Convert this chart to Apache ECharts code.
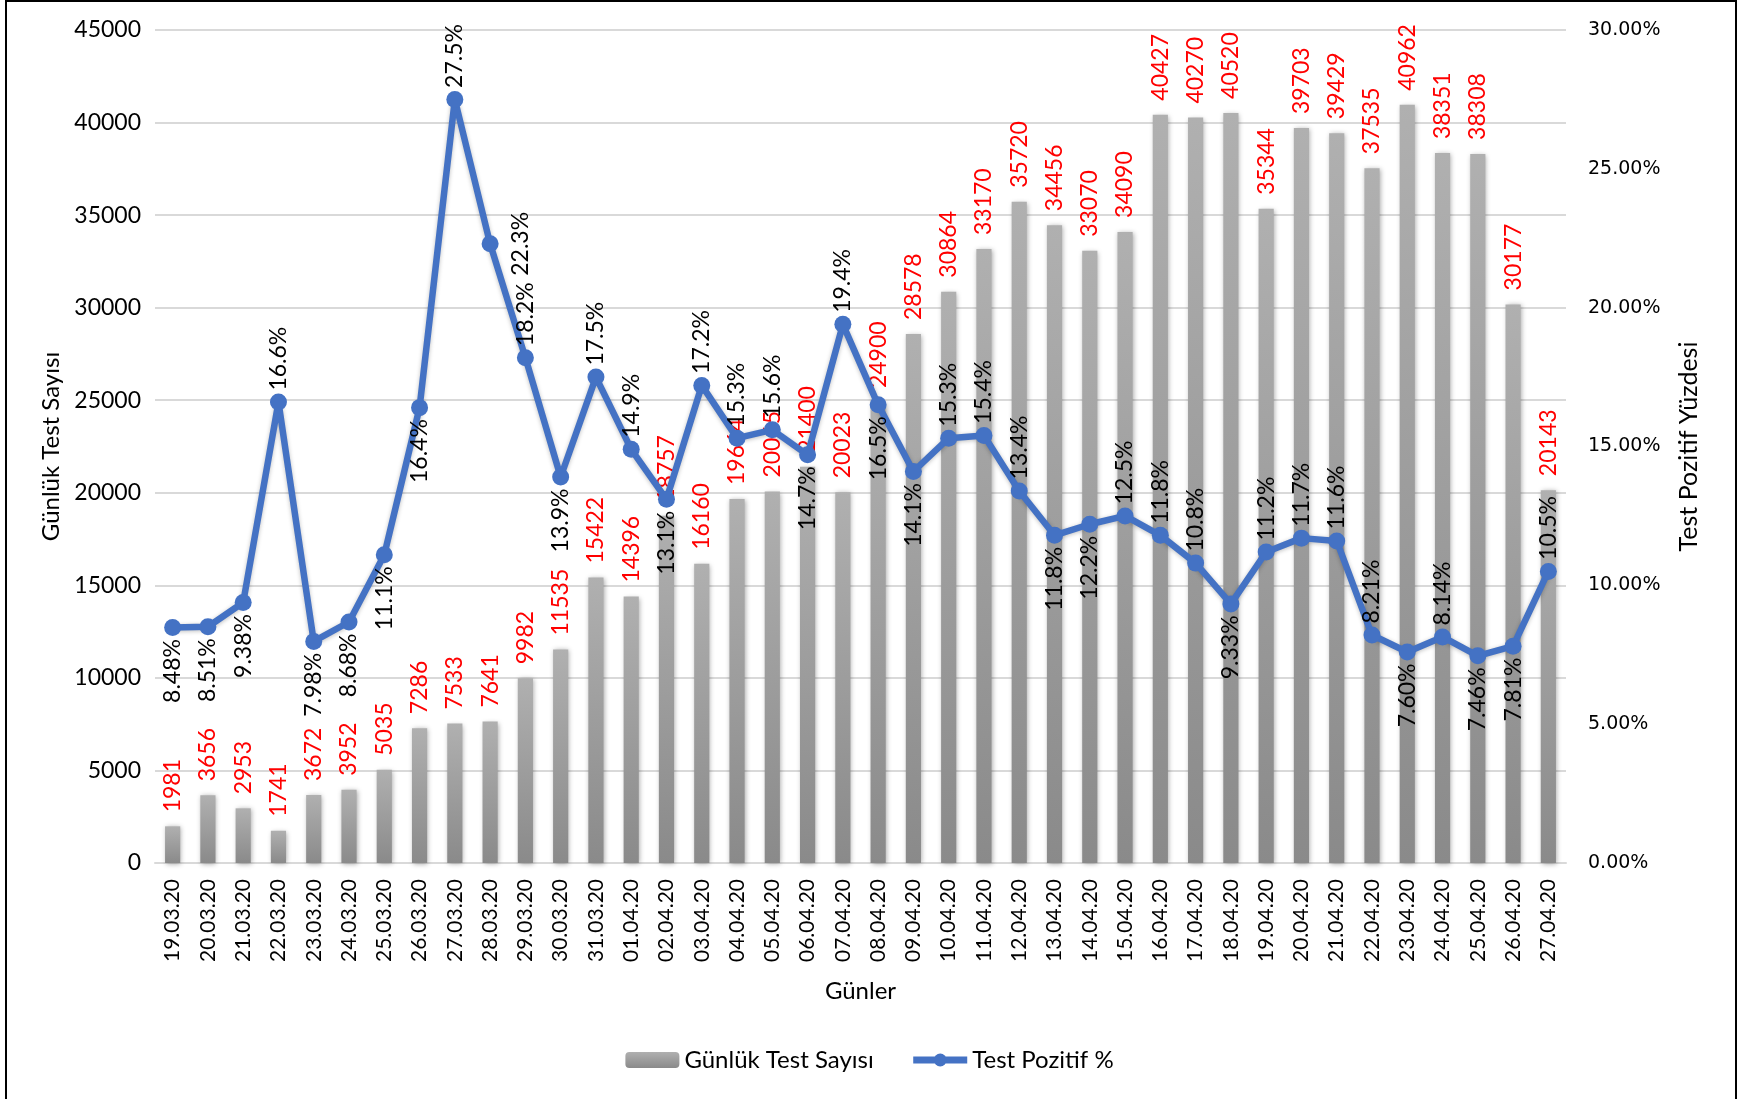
<!DOCTYPE html>
<html>
<head>
<meta charset="utf-8">
<script src="https://cdn.jsdelivr.net/npm/echarts@6/dist/echarts.min.js"></script>
<style>
  html, body { margin: 0; padding: 0; background: #fff; }
  #chart { width: 1739px; height: 1099px; }
</style>
</head>
<body>
<div id="chart"></div>
<script>
const days = ['19.03.20', '20.03.20', '21.03.20', '22.03.20', '23.03.20', '24.03.20', '25.03.20', '26.03.20', '27.03.20', '28.03.20',
  '29.03.20', '30.03.20', '31.03.20', '01.04.20', '02.04.20', '03.04.20', '04.04.20', '05.04.20', '06.04.20', '07.04.20',
  '08.04.20', '09.04.20', '10.04.20', '11.04.20', '12.04.20', '13.04.20', '14.04.20', '15.04.20', '16.04.20', '17.04.20',
  '18.04.20', '19.04.20', '20.04.20', '21.04.20', '22.04.20', '23.04.20', '24.04.20', '25.04.20', '26.04.20', '27.04.20'];

// günlük test sayısı
const testCounts = [1981, 3656, 2953, 1741, 3672, 3952, 5035, 7286, 7533, 7641,
  9982, 11535, 15422, 14396, 18757, 16160, 19664, 20065, 21400, 20023,
  24900, 28578, 30864, 33170, 35720, 34456, 33070, 34090, 40427, 40270,
  40520, 35344, 39703, 39429, 37535, 40962, 38351, 38308, 30177, 20143];

// test pozitif yüzdesi (%)
const positivePct = [8.48, 8.51, 9.38, 16.6, 7.98, 8.68, 11.1, 16.4, 27.5, 22.3,
  18.2, 13.9, 17.5, 14.9, 13.1, 17.2, 15.3, 15.6, 14.7, 19.4,
  16.5, 14.1, 15.3, 15.4, 13.4, 11.8, 12.2, 12.5, 11.8, 10.8,
  9.33, 11.2, 11.7, 11.6, 8.21, 7.60, 8.14, 7.46, 7.81, 10.5];

// etiket yerleşimi: t = üst, b = alt, r = sağ
const pctLabelSide = ['b', 'b', 'b', 't', 'b', 'b', 'b', 'b', 't', 'r',
  't', 'b', 't', 't', 'b', 't', 't', 't', 'b', 't',
  'b', 'b', 't', 't', 't', 'b', 'b', 't', 't', 't',
  'b', 't', 't', 't', 't', 'b', 't', 'b', 'b', 't'];

const FONT = 'Lato';
const BLUE = '#4472c4';

function pctLabel(side) {
  if (side === 't') return { position: 'top', align: 'left', verticalAlign: 'middle', distance: 3 };
  if (side === 'b') return { position: 'bottom', align: 'right', verticalAlign: 'middle', distance: 3 };
  return { position: 'right', align: 'center', verticalAlign: 'top', distance: 10 };
}

let myChart = echarts.init(document.getElementById('chart'));

var option = {
  animation: false,
  backgroundColor: '#fff',
  textStyle: { fontFamily: FONT },
  grid: {
    left: 155,
    right: 173,
    top: 30,
    bottom: 236
  },
  graphic: [{
    type: 'rect',
    shape: { x: 6, y: 1, width: 1730, height: 1110 },
    style: { fill: 'none', stroke: '#000', lineWidth: 2 },
    z: 100
  }],
  legend: {
    bottom: 22,
    left: 'center',
    itemWidth: 54,
    itemHeight: 16,
    itemGap: 36,
    textStyle: { fontFamily: FONT, fontSize: 24, color: '#000' },
    data: [
      { name: 'Günlük Test Sayısı' },
      { name: 'Test Pozitif %', lineStyle: { width: 7, color: BLUE }, itemStyle: { color: BLUE } }
    ]
  },
  xAxis: [{
    type: 'category',
    data: days,
    name: 'Günler',
    nameLocation: 'middle',
    nameGap: 116,
    nameTextStyle: { fontSize: 24, color: '#000' },
    axisLine: { lineStyle: { color: '#d9d9d9', width: 2 } },
    axisTick: { show: false },
    axisLabel: {
      rotate: 90,
      interval: 0,
      margin: 16,
      fontSize: 21,
      color: '#000'
    }
  }],
  yAxis: [{
    type: 'value',
    min: 0,
    max: 45000,
    interval: 5000,
    name: 'Günlük Test Sayısı',
    nameLocation: 'middle',
    nameGap: 88,
    nameTextStyle: { fontSize: 24, color: '#000' },
    axisLine: { show: false },
    axisTick: { show: false },
    axisLabel: { fontSize: 23, color: '#000', margin: 14, formatter: v => String(v) },
    splitLine: { lineStyle: { color: '#d9d9d9', width: 2 } }
  }, {
    type: 'value',
    min: 0,
    max: 30,
    interval: 5,
    name: 'Test Pozitif Yüzdesi',
    nameLocation: 'middle',
    nameGap: 110,
    nameTextStyle: { fontSize: 25, color: '#000' },
    axisLine: { show: false },
    axisTick: { show: false },
    axisLabel: {
      fontSize: 19,
      fontFamily: 'DejaVu Sans',
      color: '#000',
      margin: 22,
      formatter: v => v.toFixed(2) + '%'
    },
    splitLine: { show: false }
  }],
  series: [{
    name: 'Günlük Test Sayısı',
    type: 'bar',
    data: testCounts,
    barWidth: '43%',
    itemStyle: {
      color: new echarts.graphic.LinearGradient(0, 0, 0, 1, [
        { offset: 0, color: '#b0b0b0' },
        { offset: 1, color: '#8a8a8a' }
      ]),
      shadowColor: 'rgba(0,0,0,0.35)',
      shadowBlur: 5,
      shadowOffsetX: 1,
      shadowOffsetY: 1
    },
    label: {
      show: true,
      position: 'top',
      rotate: 90,
      align: 'left',
      verticalAlign: 'middle',
      distance: 14,
      fontSize: 23,
      color: '#ff0000'
    },
    z: 2
  }, {
    name: 'Test Pozitif %',
    type: 'line',
    yAxisIndex: 1,
    data: positivePct.map((v, i) => ({
      value: v,
      label: pctLabel(pctLabelSide[i])
    })),
    symbol: 'circle',
    symbolSize: 17,
    lineStyle: {
      color: BLUE,
      width: 6.5,
      shadowColor: 'rgba(0,0,0,0.25)',
      shadowBlur: 4,
      shadowOffsetY: 1
    },
    itemStyle: { color: BLUE },
    label: {
      show: true,
      rotate: 90,
      fontSize: 23,
      color: '#000',
      formatter: p => p.value.toPrecision(3) + '%'
    },
    z: 3
  }]
};

myChart.setOption(option);
</script>
</body>
</html>
